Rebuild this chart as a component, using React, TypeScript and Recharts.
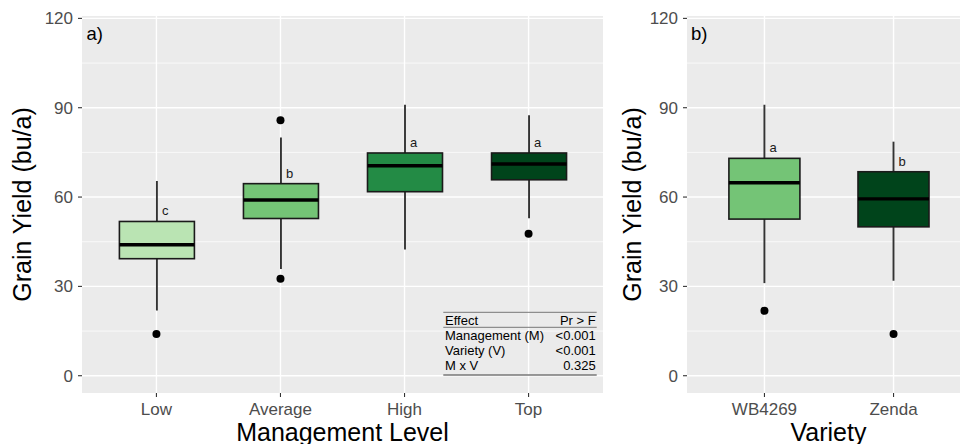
import React from 'react';
import { ComposedChart, Bar, Scatter, XAxis, YAxis, CartesianGrid } from 'recharts';

// a) management level
const mgmtLevels = ['Low', 'Average', 'High', 'Top'];
const mgmtMin = [21.9, 35.8, 42.4, 52.9];
const mgmtQ1 = [39.3, 52.8, 61.8, 65.8];
const mgmtMedian = [44.0, 59.0, 70.5, 71.1];
const mgmtQ3 = [51.8, 64.5, 74.8, 74.8];
const mgmtMax = [65.4, 80.0, 91.0, 87.5];
const mgmtLetters = ['c', 'b', 'a', 'a'];
const mgmtOutlierLevel = ['Low', 'Average', 'Average', 'Top'];
const mgmtOutlierValue = [14.0, 85.8, 32.6, 47.7];

// b) variety
const varieties = ['WB4269', 'Zenda'];
const varMin = [31.1, 31.9];
const varQ1 = [52.6, 50.0];
const varMedian = [64.8, 59.4];
const varQ3 = [73.0, 68.5];
const varMax = [91.0, 78.6];
const varLetters = ['a', 'b'];
const varOutlierName = ['WB4269', 'Zenda'];
const varOutlierValue = [21.8, 14.0];

const yTicks = [0, 30, 60, 90, 120];
const yMinor = [15, 45, 75, 105];

const tableEffects = ['Management (M)', 'Variety (V)', 'M x V'];
const tablePValues = ['<0.001', '<0.001', '0.325'];

const mgmtFills = ['#bae4b3', '#74c476', '#238b45', '#00441b'];
const varFills = ['#74c476', '#00441b'];

const FONT = '"Liberation Sans", Arial, Helvetica, sans-serif';

function buildRows(names, min, q1, med, q3, max, letters, fills) {
  return names.map((name, i) => ({
    x: i + 1,
    name,
    min: min[i],
    q1: q1[i],
    median: med[i],
    q3: q3[i],
    max: max[i],
    letter: letters[i],
    fill: fills[i],
  }));
}

function buildOutliers(names, which, values) {
  return which.map((n, i) => ({ x: names.indexOf(n) + 1, y: values[i] }));
}

const WhiskerShape = (props: any) => {
  const { x, y, width, height } = props;
  const cx = x + width / 2;
  return <line x1={cx} x2={cx} y1={y} y2={y + height} stroke="#333" strokeWidth={1.9} />;
};

const BoxShape = (props: any) => {
  const { x, y, width, height, payload } = props;
  return (
    <g>
      <rect x={x} y={y} width={width} height={height} fill={payload.fill} stroke="#1a1a1a" strokeWidth={1.6} />
      <text x={x + width / 2 + 5} y={y - 6} fontSize={13} fill="#1a1a1a">
        {payload.letter}
      </text>
    </g>
  );
};

const MedianShape = (props: any) => {
  const { x, y, width, height } = props;
  return <line x1={x} x2={x + width} y1={y + height} y2={y + height} stroke="#000" strokeWidth={3.4} />;
};

const OutlierShape = (props: any) => <circle cx={props.cx} cy={props.cy} r={4} fill="#000" />;

function BoxPanel({ names, rows, outliers, width, right, barSize, yWidth }) {
  const domain = [0.4, names.length + 0.6];
  const ticks = names.map((_, i) => i + 1);
  return (
    <ComposedChart width={width} height={444} data={rows} margin={{ top: 16, right, bottom: 0, left: 0 }}>
      <CartesianGrid xAxisId="main" fill="#ebebeb" stroke="#fff" strokeWidth={0.7} vertical={false} horizontalValues={yMinor} />
      <CartesianGrid xAxisId="main" fill="none" stroke="#fff" strokeWidth={1.4} horizontalValues={yTicks} verticalValues={ticks} />
      <XAxis
        xAxisId="main"
        dataKey="x"
        type="number"
        domain={domain}
        ticks={ticks}
        allowDataOverflow
        interval={0}
        tickFormatter={(v) => names[v - 1]}
        height={51}
        tickSize={4}
        tickMargin={6}
        axisLine={false}
        tickLine={{ stroke: '#333', strokeWidth: 1.1 }}
        tick={{ fill: '#4d4d4d', fontSize: 17 }}
      />
      <XAxis xAxisId="box" orientation="top" dataKey="x" type="number" domain={domain} ticks={ticks} allowDataOverflow hide />
      <XAxis xAxisId="med" orientation="top" dataKey="x" type="number" domain={domain} ticks={ticks} allowDataOverflow hide />
      <YAxis
        type="number"
        domain={[-5.8, 120.8]}
        ticks={yTicks}
        allowDataOverflow
        interval={0}
        width={yWidth}
        tickSize={4}
        tickMargin={5}
        axisLine={false}
        tickLine={{ stroke: '#333', strokeWidth: 1.1 }}
        tick={{ fill: '#4d4d4d', fontSize: 17 }}
      />
      <Bar xAxisId="main" dataKey={(d) => [d.min, d.max]} barSize={barSize} shape={WhiskerShape} isAnimationActive={false} />
      <Bar xAxisId="box" dataKey={(d) => [d.q1, d.q3]} barSize={barSize} shape={BoxShape} isAnimationActive={false} />
      <Bar xAxisId="med" dataKey={(d) => [d.median, d.q3]} barSize={barSize} shape={MedianShape} isAnimationActive={false} />
      <Scatter xAxisId="main" data={outliers} dataKey="y" shape={OutlierShape} isAnimationActive={false} />
    </ComposedChart>
  );
}

export default function App() {
  const mgmtRows = buildRows(mgmtLevels, mgmtMin, mgmtQ1, mgmtMedian, mgmtQ3, mgmtMax, mgmtLetters, mgmtFills);
  const varRows = buildRows(varieties, varMin, varQ1, varMedian, varQ3, varMax, varLetters, varFills);
  const mgmtOut = buildOutliers(mgmtLevels, mgmtOutlierLevel, mgmtOutlierValue);
  const varOut = buildOutliers(varieties, varOutlierName, varOutlierValue);

  return (
    <div
      style={{
        position: 'fixed',
        left: 0,
        top: 0,
        width: 960,
        height: 444,
        overflow: 'hidden',
        background: '#fff',
        fontFamily: FONT,
      }}
    >
      <div style={{ position: 'absolute', left: 0, top: 0 }}>
        <BoxPanel names={mgmtLevels} rows={mgmtRows} outliers={mgmtOut} width={610} right={7} barSize={75} yWidth={82} />
      </div>
      <div style={{ position: 'absolute', left: 606, top: 0 }}>
        <BoxPanel names={varieties} rows={varRows} outliers={varOut} width={365} right={0} barSize={71} yWidth={81} />
      </div>
      <svg width={960} height={444} style={{ position: 'absolute', left: 0, top: 0, pointerEvents: 'none' }}>
        <text x={31} y={204.5} transform="rotate(-90 31 204.5)" textAnchor="middle" fontSize={25} fill="#000">
          Grain Yield (bu/a)
        </text>
        <text x={641} y={204.5} transform="rotate(-90 641 204.5)" textAnchor="middle" fontSize={25} fill="#000">
          Grain Yield (bu/a)
        </text>
        <text x={342.5} y={440.6} textAnchor="middle" fontSize={25} fill="#000">
          Management Level
        </text>
        <text x={828.5} y={440.6} textAnchor="middle" fontSize={25} fill="#000">
          Variety
        </text>
        <text x={86.5} y={39.5} fontSize={18.5} fill="#000">a)</text>
        <text x={691} y={39.5} fontSize={18.5} fill="#000">b)</text>

        {/* ANOVA table */}
        <line x1={443.3} x2={596.7} y1={312.3} y2={312.3} stroke="#777" strokeWidth={1} />
        <line x1={443.3} x2={596.7} y1={327.3} y2={327.3} stroke="#777" strokeWidth={1} />
        <line x1={443.3} x2={596.7} y1={375} y2={375} stroke="#777" strokeWidth={1.6} />
        <text x={445} y={324.7} fontSize={13} fill="#000">Effect</text>
        <text x={595.7} y={324.7} fontSize={13} fill="#000" textAnchor="end">Pr &gt; F</text>
        {tableEffects.map((e, i) => (
          <g key={e}>
            <text x={445} y={339.7 + i * 15.3} fontSize={13} fill="#000">{e}</text>
            <text x={595.7} y={339.7 + i * 15.3} fontSize={13} fill="#000" textAnchor="end">
              {tablePValues[i]}
            </text>
          </g>
        ))}
      </svg>
    </div>
  );
}
